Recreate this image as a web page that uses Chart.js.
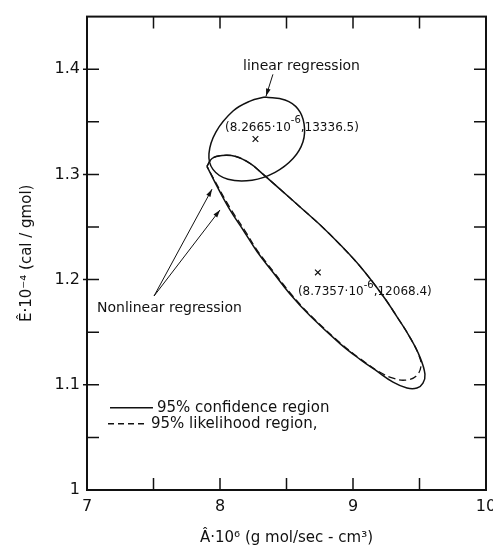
<!DOCTYPE html>
<html>
<head>
<meta charset="utf-8">
<script src="https://cdn.jsdelivr.net/npm/chart.js@4.4.1/dist/chart.umd.min.js"></script>
<style>
  html, body { margin: 0; padding: 0; background: #fff; }
  #wrap { width: 493px; height: 549px; }
</style>
</head>
<body>
<div id="wrap"><canvas id="ellipseChart"></canvas></div>
<script>
// 95% confidence region, linear regression (A·10^6, E·10^-4)
const linearA = [8.338, 8.489, 8.586, 8.632, 8.624, 8.549, 8.414, 8.241, 8.060, 7.947, 7.917, 7.970, 8.098, 8.226, 8.338];
const linearE = [1.3735, 1.3707, 1.3622, 1.3481, 1.3311, 1.3151, 1.3020, 1.2945, 1.2954, 1.3048, 1.3198, 1.3405, 1.3603, 1.3697, 1.3735];

// 95% confidence region, nonlinear regression
const nonlinA = [7.902, 7.940, 8.015, 8.120, 8.226, 8.316, 8.451, 8.602, 8.752, 8.902, 9.053, 9.226, 9.331, 9.429, 9.504, 9.541, 9.526, 9.481, 9.406, 9.301, 9.180, 9.053, 8.902, 8.677, 8.526, 8.398, 8.278, 8.173, 8.075, 7.977, 7.902];
const nonlinE = [1.3076, 1.3151, 1.3180, 1.3170, 1.3104, 1.3010, 1.2860, 1.2690, 1.2521, 1.2333, 1.2126, 1.1844, 1.1646, 1.1449, 1.1261, 1.1101, 1.1016, 1.0969, 1.0969, 1.1025, 1.1129, 1.1242, 1.1392, 1.1656, 1.1863, 1.2070, 1.2267, 1.2474, 1.2662, 1.2888, 1.3076];

// 95% likelihood region, nonlinear regression
const likeA = [7.902, 7.940, 8.015, 8.120, 8.226, 8.316, 8.451, 8.602, 8.752, 8.902, 9.053, 9.226, 9.331, 9.429, 9.496, 9.511, 9.474, 9.391, 9.301, 9.203, 9.060, 8.910, 8.684, 8.534, 8.406, 8.286, 8.183, 8.085, 7.987, 7.902];
const likeE = [1.3076, 1.3151, 1.3180, 1.3170, 1.3104, 1.3010, 1.2860, 1.2690, 1.2521, 1.2333, 1.2126, 1.1844, 1.1646, 1.1449, 1.1279, 1.1176, 1.1082, 1.1044, 1.1063, 1.1119, 1.1242, 1.1392, 1.1656, 1.1863, 1.2070, 1.2267, 1.2474, 1.2662, 1.2879, 1.3076];

// parameter estimates
const centerA = [8.2665, 8.7357];
const centerE = [1.33365, 1.20684];

const legendLabels = ['95% confidence region', '95% likelihood region,'];
const xTickLabels = { 7: '7', 8: '8', 9: '9', 10: '10' };
const yTickLabels = { 100: '1', 110: '1.1', 120: '1.2', 130: '1.3', 140: '1.4' };

const pts = (xs, ys) => xs.map((x, i) => ({ x: x, y: ys[i] }));
const INK = '#111';
const FONT = '"DejaVu Sans", sans-serif';

// text / arrow placement in data coordinates
const notes = {
  linearLabel: { x: 8.173, y: 1.4026 },
  linearArrow: [8.398, 1.3951, 8.346, 1.3744],
  nonlinLabel: { x: 7.075, y: 1.1722 },
  nonlinArrows: [[7.504, 1.1844, 7.940, 1.2860], [7.504, 1.1844, 8.000, 1.2662]],
  est1: { x: 8.038, y: 1.3443 },
  est2: { x: 8.586, y: 1.1881 },
  legend: [{ x0: 7.173, x1: 7.496, y: 1.0781 }, { x0: 7.158, x1: 7.451, y: 1.0630 }]
};

function arrow(ctx, x0, y0, x1, y1) {
  ctx.beginPath();
  ctx.moveTo(x0, y0);
  ctx.lineTo(x1, y1);
  ctx.stroke();
  const a = Math.atan2(y1 - y0, x1 - x0);
  ctx.beginPath();
  ctx.moveTo(x1, y1);
  ctx.lineTo(x1 - 8 * Math.cos(a - 0.3), y1 - 8 * Math.sin(a - 0.3));
  ctx.lineTo(x1 - 8 * Math.cos(a + 0.3), y1 - 8 * Math.sin(a + 0.3));
  ctx.closePath();
  ctx.fill();
}

function estLabel(ctx, x, y, head, sup, tail) {
  ctx.font = '12px ' + FONT;
  ctx.fillText(head, x, y);
  let w = ctx.measureText(head).width;
  ctx.font = '10px ' + FONT;
  ctx.fillText(sup, x + w, y - 7);
  w += ctx.measureText(sup).width;
  ctx.font = '12px ' + FONT;
  ctx.fillText(tail, x + w, y);
}

const decor = {
  id: 'decor',
  afterDatasetsDraw(chart) {
    const { ctx, chartArea: ca, scales: { x, y } } = chart;
    const px = v => x.getPixelForValue(v);
    const py = v => y.getPixelForValue(v);
    ctx.save();
    ctx.strokeStyle = INK;
    ctx.fillStyle = INK;

    // frame
    ctx.lineWidth = 2;
    ctx.strokeRect(ca.left, ca.top, ca.right - ca.left, ca.bottom - ca.top);

    // inside ticks
    ctx.lineWidth = 1.5;
    x.ticks.forEach(t => {
      if (t.value <= 7 || t.value >= 10) return;
      const xp = px(t.value);
      ctx.beginPath();
      ctx.moveTo(xp, ca.bottom); ctx.lineTo(xp, ca.bottom - 12);
      ctx.moveTo(xp, ca.top); ctx.lineTo(xp, ca.top + 12);
      ctx.stroke();
    });
    y.ticks.forEach(t => {
      if (t.value <= 1 || t.value >= 1.45) return;
      const yp = py(t.value);
      const major = yTickLabels[Math.round(t.value * 100)];
      ctx.beginPath();
      ctx.moveTo(ca.left - (major ? 4 : 0), yp); ctx.lineTo(ca.left + 12, yp);
      ctx.moveTo(ca.right, yp); ctx.lineTo(ca.right - 12, yp);
      ctx.stroke();
    });

    // annotations
    ctx.lineWidth = 1;
    ctx.textBaseline = 'middle';
    ctx.textAlign = 'left';
    ctx.font = '14px ' + FONT;
    ctx.fillText('linear regression', px(notes.linearLabel.x), py(notes.linearLabel.y));
    ctx.fillText('Nonlinear regression', px(notes.nonlinLabel.x), py(notes.nonlinLabel.y));
    const la = notes.linearArrow;
    arrow(ctx, px(la[0]), py(la[1]), px(la[2]), py(la[3]));
    notes.nonlinArrows.forEach(a => arrow(ctx, px(a[0]), py(a[1]), px(a[2]), py(a[3])));

    estLabel(ctx, px(notes.est1.x), py(notes.est1.y), '(8.2665·10', '-6', ',13336.5)');
    estLabel(ctx, px(notes.est2.x), py(notes.est2.y), '(8.7357·10', '-6', ',12068.4)');

    // legend
    ctx.lineWidth = 1.5;
    ctx.font = '15px ' + FONT;
    notes.legend.forEach((l, i) => {
      ctx.setLineDash(i === 0 ? [] : [6, 4]);
      ctx.beginPath();
      ctx.moveTo(px(l.x0), py(l.y)); ctx.lineTo(px(l.x1), py(l.y));
      ctx.stroke();
      ctx.setLineDash([]);
      ctx.fillText(legendLabels[i], px(l.x1) + 4, py(l.y));
    });
    ctx.restore();
  }
};

new Chart(document.getElementById('ellipseChart'), {
  type: 'scatter',
  data: {
    datasets: [
      {
        data: pts(linearA, linearE),
        showLine: true, borderColor: INK, borderWidth: 1.5,
        pointRadius: 0, tension: 0.4
      },
      {
        data: pts(nonlinA, nonlinE),
        showLine: true, borderColor: INK, borderWidth: 1.5,
        pointRadius: 0, tension: 0.4
      },
      {
        data: pts(likeA, likeE),
        showLine: true, borderColor: INK, borderWidth: 1.3, borderDash: [7, 4],
        pointRadius: 0, tension: 0.4
      },
      {
        data: pts(centerA, centerE),
        showLine: false, pointStyle: 'crossRot', pointRadius: 4,
        borderColor: INK, borderWidth: 1.2
      }
    ]
  },
  options: {
    responsive: true,
    maintainAspectRatio: false,
    animation: false,
    events: [],
    layout: { padding: { top: 11, right: 7, left: 0, bottom: 0 } },
    plugins: {
      legend: { display: false },
      tooltip: { enabled: false }
    },
    scales: {
      x: {
        min: 7, max: 10,
        grid: { display: false, drawTicks: false },
        border: { display: false },
        afterFit: s => { s.height = 59; s.paddingRight = 0; s.paddingLeft = 0; },
        ticks: {
          stepSize: 0.5, padding: 7, maxRotation: 0, autoSkip: false,
          color: INK, font: { family: FONT, size: 16 },
          callback: v => xTickLabels[v] || ''
        },
        title: {
          display: true, text: 'Â·10⁶ (g mol/sec - cm³)',
          color: INK, font: { family: FONT, size: 15 },
          padding: { top: 0, bottom: 2 }
        }
      },
      y: {
        min: 1, max: 1.45,
        grid: { display: false, drawTicks: false },
        border: { display: false },
        afterFit: s => { s.width = 87; },
        ticks: {
          stepSize: 0.05, padding: 7, autoSkip: false,
          color: INK, font: { family: FONT, size: 16 },
          callback: v => yTickLabels[Math.round(v * 100)] || ''
        },
        title: {
          display: true, text: 'Ê·10⁻⁴ (cal / gmol)',
          color: INK, font: { family: FONT, size: 15 },
          padding: { top: 18, bottom: 0 }
        }
      }
    }
  },
  plugins: [decor]
});
</script>
</body>
</html>
